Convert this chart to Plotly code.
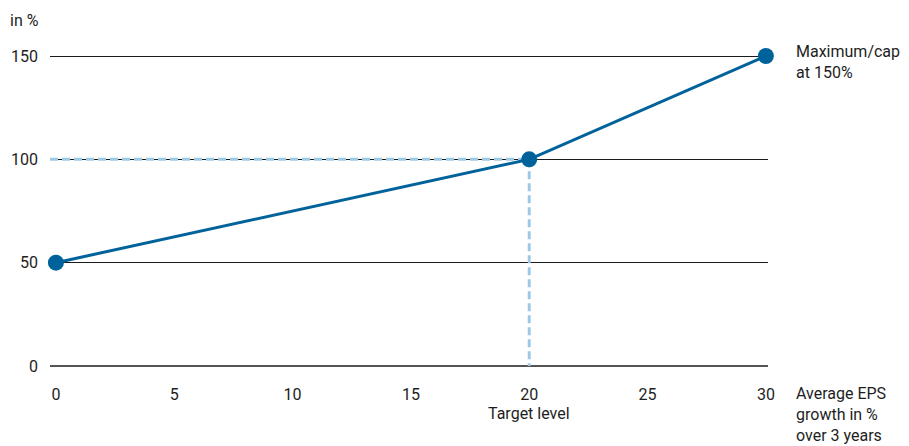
import plotly.graph_objects as go

# Payout curve: average EPS growth (%) vs. target achievement (%)
eps_growth = [0, 20, 30]
payout = [50, 100, 150]
x_ticks = [0, 5, 10, 15, 20, 25, 30]
y_ticks = [0, 50, 100, 150]
target_idx = 1

BLUE = "#00629b"
LIGHT = "#9dc9e6"
FONT = "Roboto"

tx, ty = eps_growth[target_idx], payout[target_idx]
x_min, x_max = -0.25, 30.09

fig = go.Figure()

# Dashed guide lines to the target level
fig.add_trace(go.Scatter(
    x=[x_min, tx], y=[ty, ty], mode="lines",
    line=dict(color=LIGHT, width=3, dash="8px,4px"),
    hoverinfo="skip", showlegend=False, cliponaxis=False))
fig.add_trace(go.Scatter(
    x=[tx, tx], y=[ty, y_ticks[0]], mode="lines",
    line=dict(color=LIGHT, width=3, dash="8px,4px"),
    hoverinfo="skip", showlegend=False, cliponaxis=False))

# Payout curve
fig.add_trace(go.Scatter(
    x=eps_growth, y=payout, mode="lines+markers",
    line=dict(color=BLUE, width=3),
    marker=dict(color=BLUE, size=16),
    showlegend=False, cliponaxis=False))

fig.update_layout(
    width=909, height=446,
    margin=dict(l=50, r=141, t=55, b=80),
    paper_bgcolor="white", plot_bgcolor="white",
    font=dict(family=FONT, size=16, color="#1e1e1e"),
    xaxis=dict(
        range=[x_min, x_max], tickvals=x_ticks,
        showgrid=False, zeroline=False, showline=False,
        ticks="", ticklabelstandoff=17,
    ),
    yaxis=dict(
        range=[0, 150.5], tickvals=y_ticks,
        showgrid=True, gridcolor="#1a1a1a", gridwidth=1,
        zeroline=True, zerolinecolor="#555555", zerolinewidth=2,
        showline=False, ticks="", ticklabelstandoff=11,
    ),
    annotations=[
        dict(text="in %", xref="paper", yref="paper", x=-42/718, y=1 + 35/311,
             xanchor="left", yanchor="middle", showarrow=False),
        dict(text="Target level", xref="x", yref="paper", x=tx, y=-47/311,
             xanchor="center", yanchor="middle", showarrow=False),
        dict(text="Maximum/cap<br>at 150%", xref="paper", yref="y",
             x=1 + 26/718, y=payout[-1], xanchor="left", yanchor="top",
             yshift=16, align="left", showarrow=False),
        dict(text="Average EPS<br>growth in %<br>over 3 years", xref="paper",
             yref="paper", x=1 + 26/718, y=-16/311, xanchor="left",
             yanchor="top", align="left", showarrow=False),
    ],
)

fig.write_html("out.html")
